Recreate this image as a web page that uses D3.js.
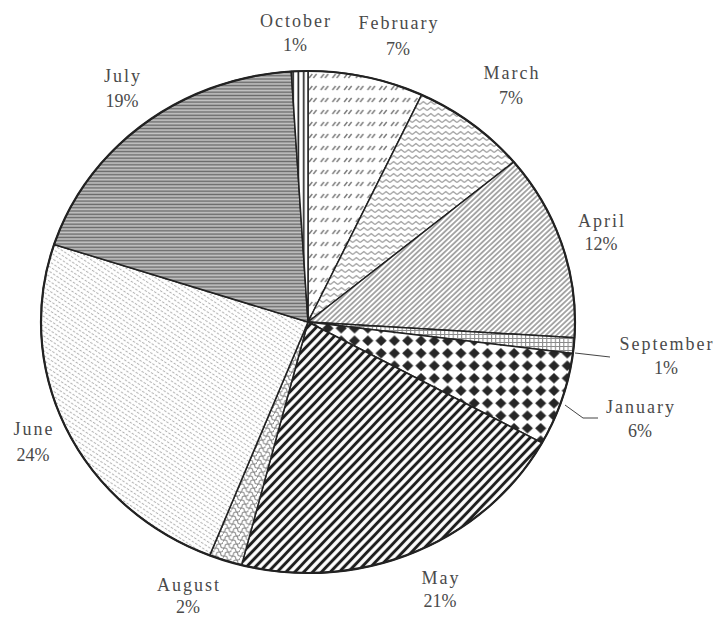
<!DOCTYPE html>
<html>
<head>
<meta charset="utf-8">
<script src="https://cdn.jsdelivr.net/npm/d3@7"></script>
<style>
  html, body { margin: 0; padding: 0; background: #fff; }
  svg { display: block; }
  text { font-family: "Liberation Serif", "Times New Roman", serif; }
</style>
</head>
<body>
<svg id="chart" width="717" height="618"></svg>
<script>
// ---- data ----
const months = ["February", "March", "April", "September", "January", "May", "August", "June", "July", "October"];
const values = [7, 7, 12, 1, 6, 21, 2, 24, 19, 1];
const percentLabels = ["7%", "7%", "12%", "1%", "6%", "21%", "2%", "24%", "19%", "1%"];

// ---- layout (not data) ----
const W = 717, H = 618;
const cx = 308, cy = 322, ry = 251, rx = 267;
const labelPos = {
  October:   { x: 295, y1: 27,  y2: 51 },
  February:  { x: 398, y1: 29,  y2: 55 },
  March:     { x: 511, y1: 79,  y2: 104 },
  April:     { x: 601, y1: 227, y2: 250 },
  September: { x: 666, y1: 350, y2: 374 },
  January:   { x: 640, y1: 413, y2: 437 },
  May:       { x: 440, y1: 584, y2: 607 },
  August:    { x: 188, y1: 591, y2: 613 },
  June:      { x: 33,  y1: 435, y2: 461 },
  July:      { x: 122, y1: 82,  y2: 107 }
};
const patternIds = {
  February: "p-feb", March: "p-mar", April: "p-apr", September: "p-sep", January: "p-jan",
  May: "p-may", August: "p-aug", June: "p-jun", July: "p-jul", October: "p-oct"
};

const svg = d3.select("#chart");
svg.append("rect").attr("width", W).attr("height", H).attr("fill", "#fff");
const defs = svg.append("defs");

function pat(id, w, h, transform) {
  const p = defs.append("pattern").attr("id", id).attr("patternUnits", "userSpaceOnUse")
    .attr("width", w).attr("height", h);
  if (transform) p.attr("patternTransform", transform);
  p.append("rect").attr("width", w).attr("height", h).attr("fill", "#fff");
  return p;
}

// February: rows of short diagonal dash pairs
{
  const p = pat("p-feb", 11, 12);
  [1, 5].forEach(x0 => p.append("line").attr("x1", x0).attr("y1", 8).attr("x2", x0 + 3).attr("y2", 4)
    .attr("stroke", "#7a7a7a").attr("stroke-width", 1.3));
}
// March: zigzag lines
{
  const p = pat("p-mar", 7, 6);
  p.append("polyline").attr("points", "0,4.5 3.5,1.5 7,4.5").attr("fill", "none")
    .attr("stroke", "#a0a0a0").attr("stroke-width", 1.3);
}
// April: fine diagonal lines "/"
{
  const p = pat("p-apr", 3.6, 3.6, "rotate(-45)");
  p.append("line").attr("x1", 0).attr("y1", 1.8).attr("x2", 3.6).attr("y2", 1.8)
    .attr("stroke", "#777").attr("stroke-width", 1.2);
}
// September: small grid
{
  const p = pat("p-sep", 4, 4);
  p.append("path").attr("d", "M0,0.5H4M0.5,0V4").attr("stroke", "#8a8a8a").attr("stroke-width", 1);
}
// January: black diamonds
{
  const p = pat("p-jan", 12.5, 12.5);
  p.append("polygon").attr("points", "6.25,1 11.5,6.25 6.25,11.5 1,6.25").attr("fill", "#262626");
}
// May: wide black diagonal stripes
{
  const p = pat("p-may", 6.2, 6.2, "rotate(-48)");
  p.append("line").attr("x1", 0).attr("y1", 3.1).attr("x2", 6.2).attr("y2", 3.1)
    .attr("stroke", "#1e1e1e").attr("stroke-width", 2.9);
}
// August: scale / wave pattern
{
  const p = pat("p-aug", 8, 8);
  p.append("path").attr("d", "M0,4 A2,2 0 0 1 4,4 A2,2 0 0 0 8,4 M-2,8 A2,2 0 0 0 2,8 A2,2 0 0 1 6,8 A2,2 0 0 0 10,8 M-2,0 A2,2 0 0 0 2,0 A2,2 0 0 1 6,0 A2,2 0 0 0 10,0")
    .attr("fill", "none").attr("stroke", "#8c8c8c").attr("stroke-width", 1);
}
// June: light fine dashed diagonal texture
{
  const p = pat("p-jun", 4, 4, "rotate(35)");
  p.append("line").attr("x1", 0).attr("y1", 2).attr("x2", 2.6).attr("y2", 2)
    .attr("stroke", "#b4b4b4").attr("stroke-width", 1);
}
// July: dense horizontal lines on gray
{
  const p = pat("p-jul", 4, 3.3);
  p.select("rect").attr("fill", "#c4c4c4");
  p.append("line").attr("x1", 0).attr("y1", 1.2).attr("x2", 4).attr("y2", 1.2)
    .attr("stroke", "#6a6a6a").attr("stroke-width", 1.5);
}
// October: vertical lines
{
  const p = pat("p-oct", 5, 4);
  p.append("line").attr("x1", 1).attr("y1", 0).attr("x2", 1).attr("y2", 4)
    .attr("stroke", "#222").attr("stroke-width", 1.6);
}

// ---- pie ----
const pie = d3.pie().sort(null).value(d => d.value).startAngle(0).endAngle(2 * Math.PI);
const arcs = pie(months.map((m, i) => ({ month: m, value: values[i], label: percentLabels[i] })));
const arc = d3.arc().innerRadius(0).outerRadius(ry);

const g = svg.append("g").attr("transform", `translate(${cx},${cy}) scale(${rx / ry},1)`);
g.selectAll("path.slice").data(arcs).join("path")
  .attr("class", "slice")
  .attr("d", arc)
  .attr("fill", d => `url(#${patternIds[d.data.month]})`)
  .attr("stroke", "#222")
  .attr("stroke-width", 1.5)
  .attr("stroke-linejoin", "round")
  .attr("vector-effect", "non-scaling-stroke");

g.append("circle").attr("r", ry).attr("fill", "none")
  .attr("stroke", "#222").attr("stroke-width", 2.2)
  .attr("vector-effect", "non-scaling-stroke");

// ---- leader lines ----
svg.append("path").attr("d", "M575,353 L610,357").attr("fill", "none").attr("stroke", "#444").attr("stroke-width", 1);
svg.append("path").attr("d", "M565,405 L583,418 L598,418").attr("fill", "none").attr("stroke", "#444").attr("stroke-width", 1);

// ---- labels ----
const lab = svg.append("g").attr("fill", "#4a4a4a").attr("font-size", 18).attr("text-anchor", "middle");
arcs.forEach(d => {
  const p = labelPos[d.data.month];
  lab.append("text").attr("x", p.x + 1).attr("y", p.y1).attr("letter-spacing", 2).text(d.data.month);
  lab.append("text").attr("x", p.x).attr("y", p.y2).text(d.data.label);
});
</script>
</body>
</html>
